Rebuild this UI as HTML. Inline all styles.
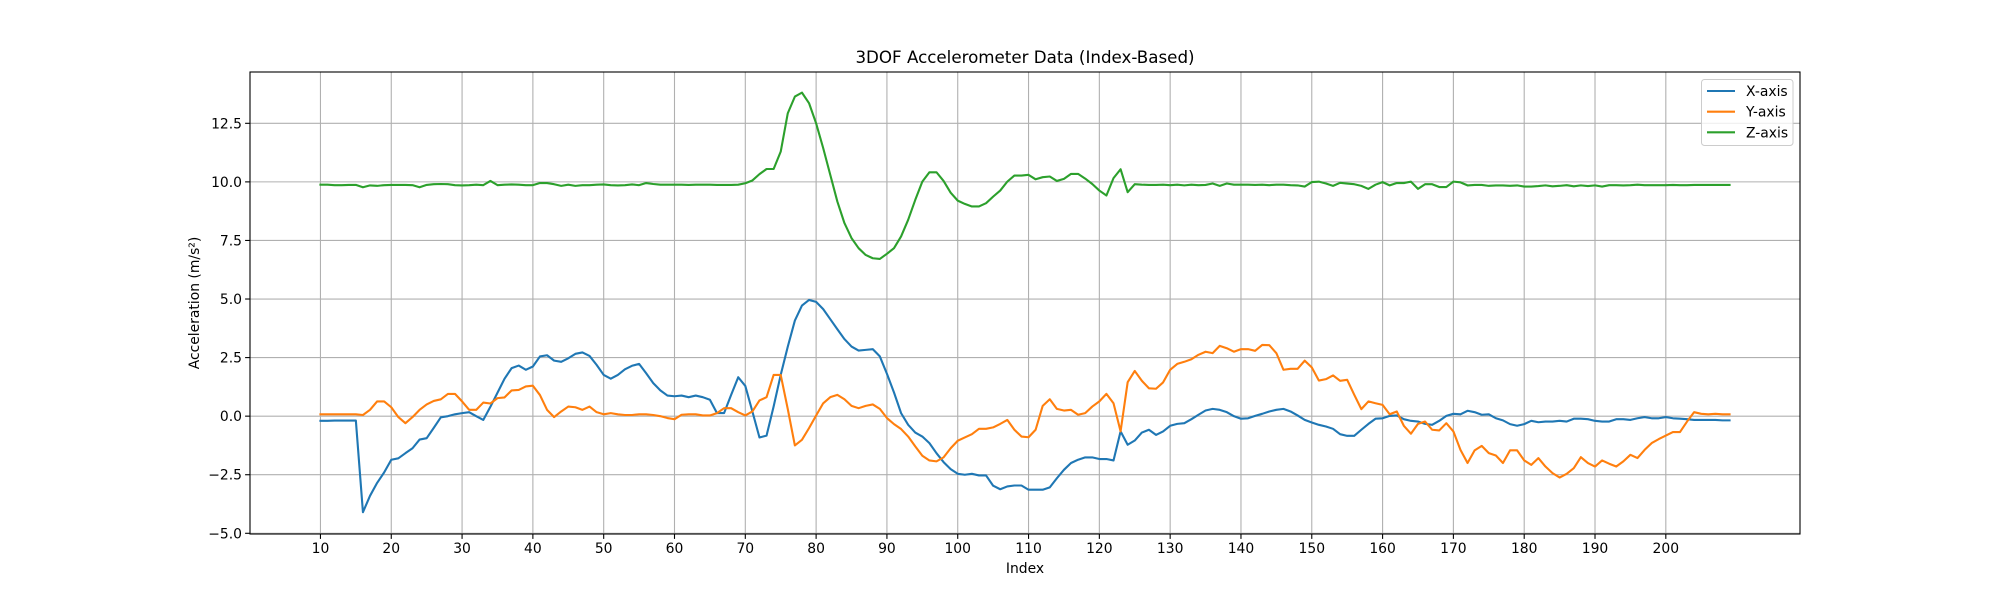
<!DOCTYPE html>
<html><head><meta charset="utf-8"><title>3DOF Accelerometer Data</title>
<style>html,body{margin:0;padding:0;background:#fff;}svg{display:block;font-family:"DejaVu Sans","Liberation Sans",sans-serif;}</style>
</head><body>
<svg id="chart" width="2000" height="600" viewBox="0 0 2000 600" xmlns="http://www.w3.org/2000/svg">
<rect x="0" y="0" width="2000" height="600" fill="#fff"/>
<g id="grid"></g>
<g id="series"></g>
<rect x="250" y="72" width="1550" height="462" fill="none" stroke="#000" stroke-width="1.1"/>
<g id="ticks"></g>
<text x="1025" y="63" font-size="16.7" text-anchor="middle">3DOF Accelerometer Data (Index-Based)</text>
<text x="1025" y="573" font-size="13.9" text-anchor="middle">Index</text>
<text x="0" y="0" font-size="13.9" text-anchor="middle" transform="translate(199,303) rotate(-90)">Acceleration (m/s²)</text>
<g>
<rect x="1701.5" y="79.5" width="91.5" height="66" rx="3" fill="#fff" fill-opacity="0.8" stroke="#ccc" stroke-width="1"/>
<line x1="1707" y1="91" x2="1735" y2="91" stroke="#1f77b4" stroke-width="2.1"/>
<text x="1746" y="96" font-size="13.9">X-axis</text>
<line x1="1707" y1="111.7" x2="1735" y2="111.7" stroke="#ff7f0e" stroke-width="2.1"/>
<text x="1746" y="116.7" font-size="13.9">Y-axis</text>
<line x1="1707" y1="132.3" x2="1735" y2="132.3" stroke="#2ca02c" stroke-width="2.1"/>
<text x="1746" y="137.3" font-size="13.9">Z-axis</text>
</g>
</svg>
<script>
const startIndex = 10;
const xTicks = [10,20,30,40,50,60,70,80,90,100,110,120,130,140,150,160,170,180,190,200];
const yTicks = [-5.0,-2.5,0.0,2.5,5.0,7.5,10.0,12.5];
const yTickLabels = ["−5.0","−2.5","0.0","2.5","5.0","7.5","10.0","12.5"];
const xAxisValues = [
-0.2,-0.2,-0.19,-0.19,-0.19,-0.19,-4.1,-3.4,-2.85,-2.4,
-1.86,-1.8,-1.58,-1.37,-1.0,-0.94,-0.5,-0.05,0.0,0.08,
0.13,0.17,0,-0.16,0.4,1.0,1.6,2.05,2.16,1.98,
2.12,2.55,2.6,2.37,2.32,2.47,2.66,2.72,2.57,2.19,
1.76,1.6,1.76,2.0,2.15,2.23,1.83,1.41,1.1,0.88,
0.85,0.88,0.81,0.88,0.81,0.7,0.13,0.13,0.91,1.66,
1.29,0.2,-0.91,-0.83,0.41,1.76,2.97,4.08,4.72,4.96,
4.88,4.57,4.14,3.71,3.29,2.97,2.8,2.83,2.86,2.55,
1.81,1.01,0.13,-0.37,-0.7,-0.87,-1.15,-1.58,-1.96,-2.26,
-2.46,-2.5,-2.46,-2.53,-2.53,-2.97,-3.12,-3.0,-2.96,-2.96,
-3.14,-3.14,-3.14,-3.04,-2.65,-2.29,-2.0,-1.86,-1.76,-1.76,
-1.83,-1.83,-1.89,-0.65,-1.22,-1.04,-0.7,-0.58,-0.8,-0.65,
-0.41,-0.33,-0.3,-0.13,0.06,0.24,0.31,0.27,0.17,0,
-0.11,-0.09,0.01,0.1,0.2,0.27,0.31,0.2,0.03,-0.16,
-0.27,-0.37,-0.44,-0.54,-0.77,-0.84,-0.84,-0.58,-0.33,-0.11,
-0.09,0.01,0.03,-0.13,-0.2,-0.23,-0.33,-0.37,-0.2,0.01,
0.1,0.08,0.23,0.17,0.06,0.08,-0.09,-0.18,-0.34,-0.41,
-0.34,-0.2,-0.26,-0.23,-0.23,-0.2,-0.23,-0.11,-0.11,-0.13,
-0.2,-0.23,-0.23,-0.13,-0.13,-0.16,-0.09,-0.04,-0.09,-0.09,
-0.04,-0.09,-0.11,-0.13,-0.16,-0.16,-0.16,-0.16,-0.18,-0.18];
const yAxisValues = [
0.08,0.08,0.08,0.08,0.08,0.08,0.05,0.27,0.63,0.63,
0.38,-0.04,-0.3,-0.04,0.27,0.5,0.65,0.72,0.95,0.95,
0.63,0.27,0.27,0.58,0.54,0.77,0.8,1.1,1.12,1.27,
1.3,0.9,0.27,-0.04,0.2,0.41,0.38,0.27,0.41,0.17,
0.08,0.13,0.08,0.05,0.05,0.08,0.08,0.05,0,-0.08,
-0.13,0.06,0.08,0.08,0.03,0.03,0.13,0.34,0.34,0.17,
0.03,0.2,0.67,0.81,1.76,1.76,0.3,-1.25,-1.01,-0.51,
0.03,0.55,0.81,0.91,0.72,0.44,0.34,0.44,0.5,0.31,
-0.08,-0.34,-0.55,-0.87,-1.29,-1.69,-1.89,-1.93,-1.76,-1.37,
-1.05,-0.91,-0.77,-0.54,-0.54,-0.48,-0.33,-0.16,-0.58,-0.87,
-0.9,-0.58,0.44,0.72,0.31,0.24,0.27,0.06,0.13,0.41,
0.63,0.95,0.55,-0.65,1.45,1.93,1.51,1.19,1.17,1.44,
1.98,2.23,2.32,2.43,2.62,2.75,2.69,3.0,2.9,2.75,
2.86,2.86,2.79,3.04,3.03,2.69,1.98,2.02,2.02,2.37,
2.08,1.52,1.58,1.74,1.51,1.55,0.91,0.3,0.63,0.55,
0.48,0.08,0.2,-0.41,-0.75,-0.33,-0.23,-0.58,-0.61,-0.3,
-0.65,-1.44,-2.0,-1.46,-1.27,-1.58,-1.68,-2.0,-1.46,-1.46,
-1.89,-2.08,-1.79,-2.15,-2.43,-2.62,-2.46,-2.22,-1.75,-2.0,
-2.15,-1.89,-2.03,-2.15,-1.93,-1.65,-1.79,-1.44,-1.15,-0.98,
-0.83,-0.68,-0.68,-0.23,0.17,0.1,0.08,0.1,0.08,0.08];
const zAxisValues = [
9.88,9.88,9.86,9.86,9.87,9.87,9.77,9.85,9.83,9.86,
9.87,9.87,9.87,9.86,9.77,9.87,9.9,9.91,9.9,9.86,
9.85,9.86,9.88,9.86,10.04,9.86,9.88,9.89,9.88,9.86,
9.86,9.95,9.95,9.9,9.83,9.88,9.83,9.86,9.86,9.88,
9.89,9.86,9.85,9.86,9.89,9.86,9.95,9.91,9.88,9.88,
9.88,9.88,9.87,9.88,9.88,9.88,9.87,9.87,9.87,9.88,
9.94,10.06,10.33,10.55,10.55,11.29,12.93,13.64,13.81,13.36,
12.5,11.44,10.3,9.16,8.24,7.6,7.17,6.88,6.74,6.71,
6.93,7.17,7.67,8.38,9.23,10.01,10.41,10.41,10.04,9.54,
9.2,9.06,8.95,8.95,9.09,9.37,9.63,10.01,10.27,10.27,
10.3,10.11,10.2,10.23,10.04,10.13,10.34,10.34,10.14,9.91,
9.63,9.42,10.16,10.54,9.56,9.9,9.88,9.87,9.87,9.88,
9.86,9.88,9.85,9.88,9.86,9.87,9.93,9.83,9.93,9.88,
9.88,9.88,9.87,9.88,9.86,9.88,9.88,9.86,9.85,9.8,
9.99,10.01,9.93,9.83,9.96,9.93,9.9,9.83,9.7,9.88,
9.99,9.85,9.95,9.95,10.01,9.7,9.9,9.9,9.78,9.78,
10.01,9.98,9.85,9.87,9.87,9.83,9.85,9.85,9.83,9.85,
9.8,9.8,9.82,9.85,9.81,9.83,9.86,9.81,9.85,9.82,
9.85,9.8,9.86,9.86,9.85,9.86,9.88,9.86,9.86,9.86,
9.86,9.87,9.86,9.86,9.87,9.87,9.87,9.87,9.87,9.87];

const NS = "http://www.w3.org/2000/svg";
const PL = 250, PR = 1800, PT = 72, PB = 534;
const XMIN = 0.05, XMAX = 218.95, YMIN = -5.03, YMAX = 14.69;
function xs(i){ return PL + (i - XMIN) / (XMAX - XMIN) * (PR - PL); }
function ys(v){ return PB - (v - YMIN) / (YMAX - YMIN) * (PB - PT); }
function mk(tag, attrs, parent){
  const e = document.createElementNS(NS, tag);
  for (const k in attrs) e.setAttribute(k, attrs[k]);
  parent.appendChild(e); return e;
}
const grid = document.getElementById('grid');
const ticks = document.getElementById('ticks');
const series = document.getElementById('series');

xTicks.forEach(t => {
  const x = xs(t);
  const g = mk('line', {x1:x, y1:PT, x2:x, y2:PB, stroke:'#b0b0b0', 'stroke-width':1.1}, grid);
  
  
  const tk = mk('line', {x1:x, y1:PB, x2:x, y2:PB+4.9, stroke:'#000', 'stroke-width':1.1}, ticks);
  
  
  const lb = mk('text', {x:x, y:PB+19, 'font-size':13.9, 'text-anchor':'middle'}, ticks);
  lb.textContent = String(t);
  
  
});
yTicks.forEach((t, k) => {
  const y = ys(t);
  const g = mk('line', {x1:PL, y1:y, x2:PR, y2:y, stroke:'#b0b0b0', 'stroke-width':1.1}, grid);
  
  
  const tk = mk('line', {x1:PL-4.9, y1:y, x2:PL, y2:y, stroke:'#000', 'stroke-width':1.1}, ticks);
  
  
  const lb = mk('text', {x:PL-8, y:y+5, 'font-size':13.9, 'text-anchor':'end'}, ticks);
  lb.textContent = yTickLabels[k];
  
  
});
function drawSeries(vals, color, name){
  const pts = vals.map((v, k) => xs(startIndex + k).toFixed(2) + ',' + ys(v).toFixed(2)).join(' ');
  const p = mk('polyline', {points:pts, fill:'none', stroke:color, 'stroke-width':2.1, 'stroke-linejoin':'round', 'stroke-linecap':'square'}, series);
  
  
}
drawSeries(xAxisValues, '#1f77b4', 'x-axis-line');
drawSeries(yAxisValues, '#ff7f0e', 'y-axis-line');
drawSeries(zAxisValues, '#2ca02c', 'z-axis-line');
</script>
</body></html>
